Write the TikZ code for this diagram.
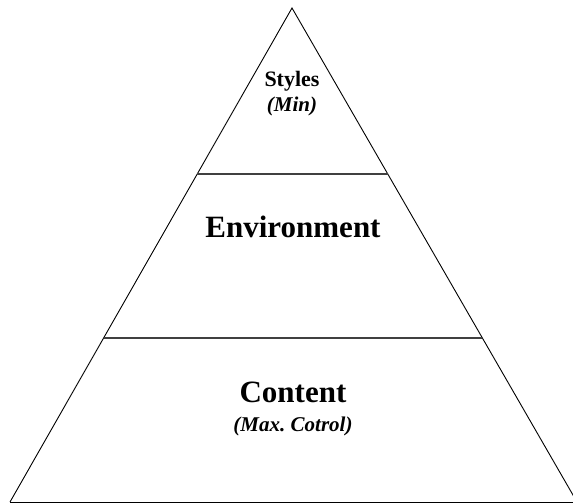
\documentclass[tikz,border=0pt]{standalone}
\usepackage{fontspec}
\setmainfont{Liberation Serif}
\usetikzlibrary{calc}
\begin{document}
\begin{tikzpicture}[x=1pt,y=-1pt,
  side/.style={line width=0.9pt, draw=black},
  divider/.style={line width=1.8pt, draw=black!75},
  bigtext/.style={font=\fontsize{31}{36}\selectfont\bfseries, anchor=base, inner sep=0pt},
  midtext/.style={font=\fontsize{22}{26}\selectfont\bfseries, anchor=base, inner sep=0pt},
  subtext/.style={font=\fontsize{21}{25}\selectfont\bfseries\itshape, anchor=base, inner sep=0pt}]
\useasboundingbox (0,0) rectangle (573,503);
\clip (0,0) rectangle (573,503);
\coordinate (apex) at (292,8);
\coordinate (bl) at (10,502);
\coordinate (br) at (577,502);
\coordinate (l1) at ($(apex)!0.336!(bl)$);
\coordinate (r1) at ($(apex)!0.336!(br)$);
\coordinate (l2) at ($(apex)!0.668!(bl)$);
\coordinate (r2) at ($(apex)!0.668!(br)$);
\draw[side] (bl) -- (apex) -- (br);
\draw[side] (bl) -- (br);
\draw[divider] (l1) -- (r1);
\draw[divider] (l2) -- (r2);
\node[midtext] (styles) at (292,87) {Styles};
\node[subtext] (min) at (292,111) {(Min)};
\node[bigtext] (env) at (293,237) {Environment};
\node[bigtext] (content) at (293,402) {Content};
\node[subtext] (max) at (293,431) {(Max.\ Cotrol)};
\end{tikzpicture}
\end{document}
